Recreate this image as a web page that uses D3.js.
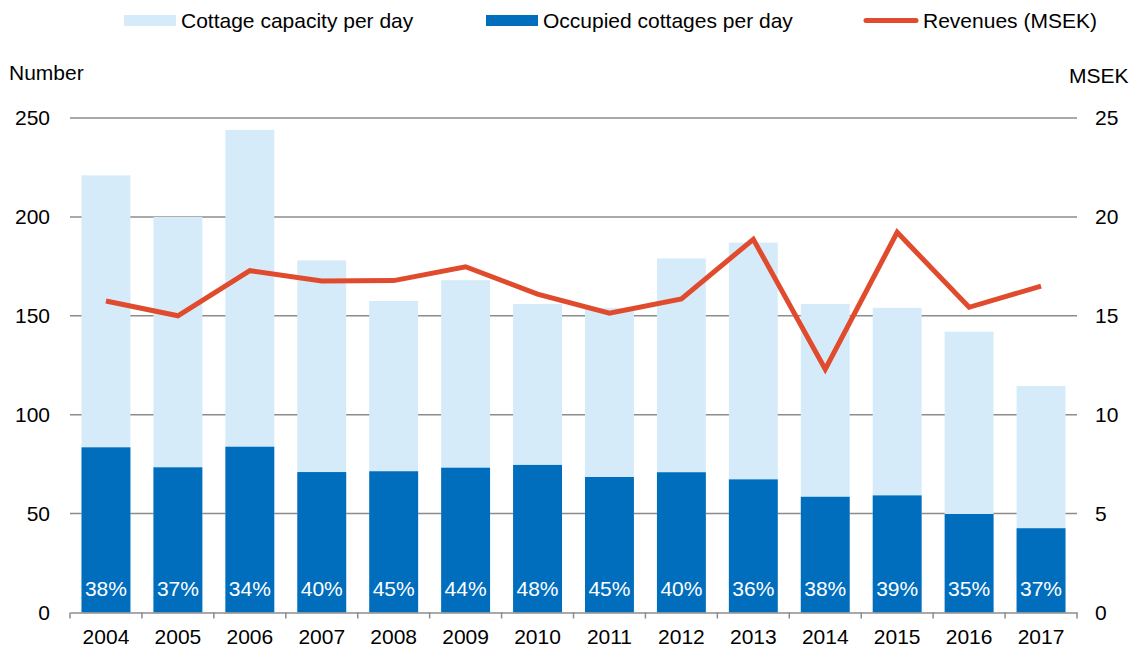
<!DOCTYPE html>
<html>
<head>
<meta charset="utf-8">
<script src="https://cdn.jsdelivr.net/npm/d3@7"></script>
<style>
  body { margin: 0; background: #fff; }
  svg { display: block; font-family: Arial, "Liberation Sans", sans-serif; }
</style>
</head>
<body>
<svg id="chart" width="1132" height="648"></svg>
<script>
// data
var years = ["2004", "2005", "2006", "2007", "2008", "2009", "2010", "2011", "2012", "2013", "2014", "2015", "2016", "2017"];
var capacity = [221, 200, 244, 178, 157.5, 168, 156, 154, 179, 187, 156, 154, 142, 114.5];
var occupied = [83.5, 73.4, 83.8, 71, 71.4, 73.2, 74.6, 68.5, 70.9, 67.3, 58.5, 59.2, 49.8, 42.6];
var occupancy = ["38%", "37%", "34%", "40%", "45%", "44%", "48%", "45%", "40%", "36%", "38%", "39%", "35%", "37%"];
var revenues = [15.75, 15.0, 17.28, 16.76, 16.78, 17.48, 16.1, 15.13, 15.85, 18.87, 12.3, 19.22, 15.43, 16.5];
var leftTicks = [0, 50, 100, 150, 200, 250];
var rightTicks = [0, 5, 10, 15, 20, 25];

var lightBlue = "#d5ebf9",
    darkBlue = "#006ebd",
    red = "#e04b2d",
    grid = "#8c8c8c";

// plot box (window.top is reserved, so other names)
var plotLeft = 70, plotRight = 1077, plotTop = 118, plotBottom = 612.5;

var svg = d3.select("#chart");

var x = d3.scaleBand()
  .domain(years)
  .range([plotLeft, plotRight])
  .paddingInner(0.32)
  .paddingOuter(0.16);

var y = d3.scaleLinear().domain([0, 250]).range([plotBottom, plotTop]);
var y2 = d3.scaleLinear().domain([0, 25]).range([plotBottom, plotTop]);

// gridlines
svg.append("g")
  .selectAll("line")
  .data(leftTicks.slice(1))
  .enter().append("line")
  .attr("x1", plotLeft).attr("x2", plotRight)
  .attr("y1", function(d) { return y(d); })
  .attr("y2", function(d) { return y(d); })
  .attr("stroke", grid)
  .attr("stroke-width", 1.5);

// capacity bars
svg.append("g")
  .selectAll("rect")
  .data(years)
  .enter().append("rect")
  .attr("x", function(d) { return x(d); })
  .attr("width", x.bandwidth())
  .attr("y", function(d, i) { return y(capacity[i]); })
  .attr("height", function(d, i) { return plotBottom - y(capacity[i]); })
  .attr("fill", lightBlue);

// occupied bars
svg.append("g")
  .selectAll("rect")
  .data(years)
  .enter().append("rect")
  .attr("x", function(d) { return x(d); })
  .attr("width", x.bandwidth())
  .attr("y", function(d, i) { return y(occupied[i]); })
  .attr("height", function(d, i) { return plotBottom - y(occupied[i]); })
  .attr("fill", darkBlue);

// occupancy labels
svg.append("g")
  .selectAll("text")
  .data(years)
  .enter().append("text")
  .attr("x", function(d) { return x(d) + x.bandwidth() / 2; })
  .attr("y", 596)
  .attr("text-anchor", "middle")
  .attr("fill", "#fff")
  .style("font-size", "21px")
  .text(function(d, i) { return occupancy[i]; });

// bottom axis
var xAxis = d3.axisBottom(x).tickSize(0).tickPadding(17);
var gx = svg.append("g")
  .attr("transform", "translate(0," + plotBottom + ")")
  .call(xAxis);
gx.select(".domain").attr("stroke", grid).attr("stroke-width", 1.5);
gx.selectAll("text").style("font-size", "21px").attr("fill", "#000");

// tick marks between categories
var bounds = years.map(function(d) { return x(d) - x.step() * x.paddingInner() / 2; });
bounds[0] = plotLeft;
bounds.push(plotRight);
gx.selectAll(".sep")
  .data(bounds)
  .enter().append("line")
  .attr("class", "sep")
  .attr("x1", function(d) { return d; })
  .attr("x2", function(d) { return d; })
  .attr("y1", 0).attr("y2", 6)
  .attr("stroke", grid)
  .attr("stroke-width", 1.5);

// left axis
var gy = svg.append("g")
  .attr("transform", "translate(" + plotLeft + ",0)")
  .call(d3.axisLeft(y).tickValues(leftTicks).tickSize(0).tickPadding(20));
gy.select(".domain").remove();
gy.selectAll("text").style("font-size", "21px").attr("fill", "#000");

// right axis
var gy2 = svg.append("g")
  .attr("transform", "translate(" + plotRight + ",0)")
  .call(d3.axisRight(y2).tickValues(rightTicks).tickSize(0).tickPadding(18));
gy2.select(".domain").remove();
gy2.selectAll("text").style("font-size", "21px").attr("fill", "#000");

// revenue line
var line = d3.line()
  .x(function(d, i) { return x(years[i]) + x.bandwidth() / 2; })
  .y(function(d) { return y2(d); });

svg.append("path")
  .datum(revenues)
  .attr("d", line)
  .attr("fill", "none")
  .attr("stroke", red)
  .attr("stroke-width", 5)
  .attr("stroke-linejoin", "miter");

// axis titles
svg.append("text").attr("x", 9).attr("y", 80)
  .style("font-size", "21px").text("Number");
svg.append("text").attr("x", 1069).attr("y", 83)
  .style("font-size", "21px").text("MSEK");

// legend
var legend = svg.append("g").style("font-size", "21px");
legend.append("rect").attr("x", 124).attr("y", 15).attr("width", 52).attr("height", 11).attr("fill", lightBlue);
legend.append("text").attr("x", 181).attr("y", 28).text("Cottage capacity per day");
legend.append("rect").attr("x", 486).attr("y", 15).attr("width", 52).attr("height", 11).attr("fill", darkBlue);
legend.append("text").attr("x", 543).attr("y", 28).text("Occupied cottages per day");
legend.append("line").attr("x1", 866).attr("x2", 916).attr("y1", 20.5).attr("y2", 20.5)
  .attr("stroke", red).attr("stroke-width", 5).attr("stroke-linecap", "round");
legend.append("text").attr("x", 923).attr("y", 28).text("Revenues (MSEK)");
</script>
</body>
</html>
